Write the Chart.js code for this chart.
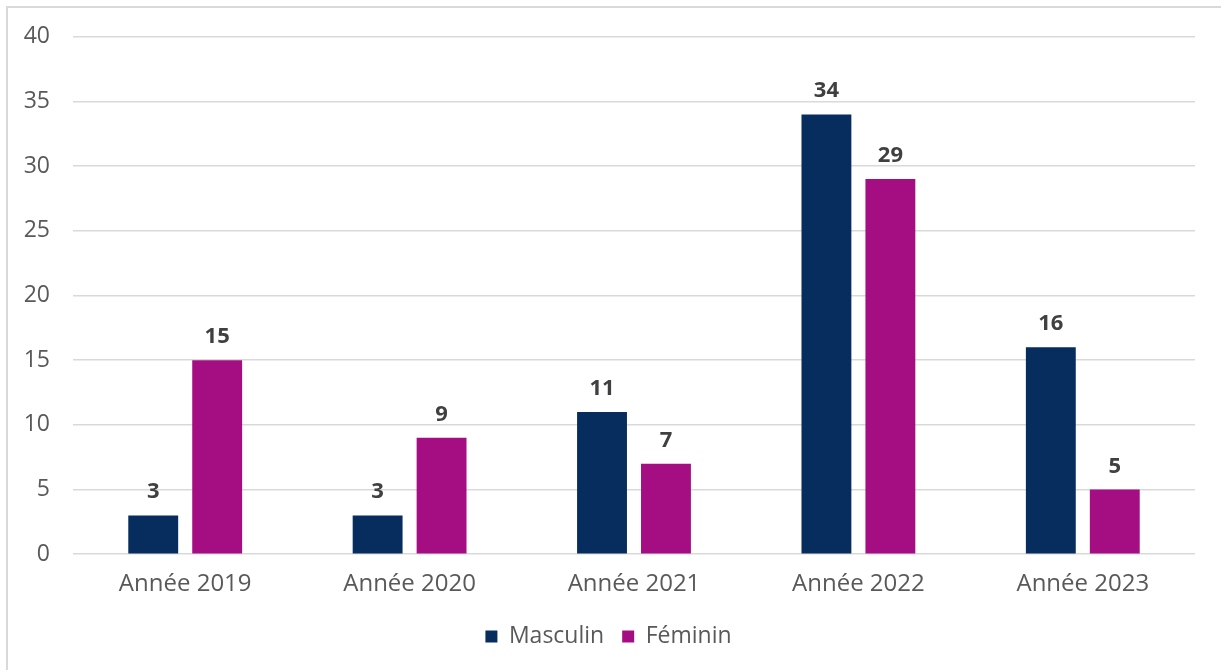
<!DOCTYPE html>
<html>
<head>
<meta charset="utf-8">
<script src="https://cdn.jsdelivr.net/npm/chart.js@4"></script>
<style>
  body { margin: 0; background: #fff; }
  #frame { position: absolute; left: 6px; top: 6px; width: 1400px; height: 800px; border: 2px solid #d9d9d9; }
  #wrap { position: absolute; left: 0; top: 0; width: 1221px; height: 670px; }
</style>
</head>
<body>
<div id="frame"></div>
<div id="wrap"><canvas id="chart"></canvas></div>
<script>
// Données
const categories = ["Année 2019", "Année 2020", "Année 2021", "Année 2022", "Année 2023"];
const masculin = [3, 3, 11, 34, 16];
const feminin = [15, 9, 7, 29, 5];
const yTicks = [0, 5, 10, 15, 20, 25, 30, 35, 40];

const FONT = "'Open Sans', 'Noto Sans', sans-serif";

// étiquettes de valeur au-dessus des barres
const valueLabels = {
  id: "valueLabels",
  afterDatasetsDraw(chart) {
    const ctx = chart.ctx;
    ctx.save();
    ctx.font = "bold 22px " + FONT;
    ctx.fillStyle = "#404040";
    ctx.textAlign = "center";
    ctx.textBaseline = "alphabetic";
    chart.data.datasets.forEach((ds, i) => {
      chart.getDatasetMeta(i).data.forEach((bar, j) => {
        ctx.fillText(ds.data[j], bar.x, bar.y - 17);
      });
    });
    ctx.restore();
  }
};

const ctx = document.getElementById("chart").getContext("2d");
new Chart(ctx, {
  type: "bar",
  data: {
    labels: categories,
    datasets: [
      { label: "Masculin", data: masculin, backgroundColor: "#062D5E" },
      { label: "Féminin", data: feminin, backgroundColor: "#A50E82" }
    ]
  },
  options: {
    responsive: true,
    maintainAspectRatio: false,
    animation: false,
    categoryPercentage: 0.57,
    barPercentage: 0.78,
    layout: { padding: { left: 22, right: 26, top: 24, bottom: 12 } },
    plugins: {
      legend: {
        position: "bottom",
        labels: {
          font: { family: FONT, size: 23 },
          color: "#595959",
          boxWidth: 12,
          boxHeight: 12,
          padding: 18
        }
      },
      tooltip: { enabled: false }
    },
    scales: {
      x: {
        grid: { display: false },
        border: { display: false },
        ticks: { font: { family: FONT, size: 24 }, color: "#595959", padding: 8 }
      },
      y: {
        min: 0,
        max: 40,
        afterBuildTicks(scale) { scale.ticks = yTicks.map(v => ({ value: v })); },
        afterFit(scale) { scale.width = 51; },
        grid: { color: "#d9d9d9", lineWidth: 1.5, drawTicks: false },
        border: { display: false },
        ticks: { font: { family: FONT, size: 23 }, color: "#595959", padding: 23 }
      }
    }
  },
  plugins: [valueLabels]
});
</script>
</body>
</html>
